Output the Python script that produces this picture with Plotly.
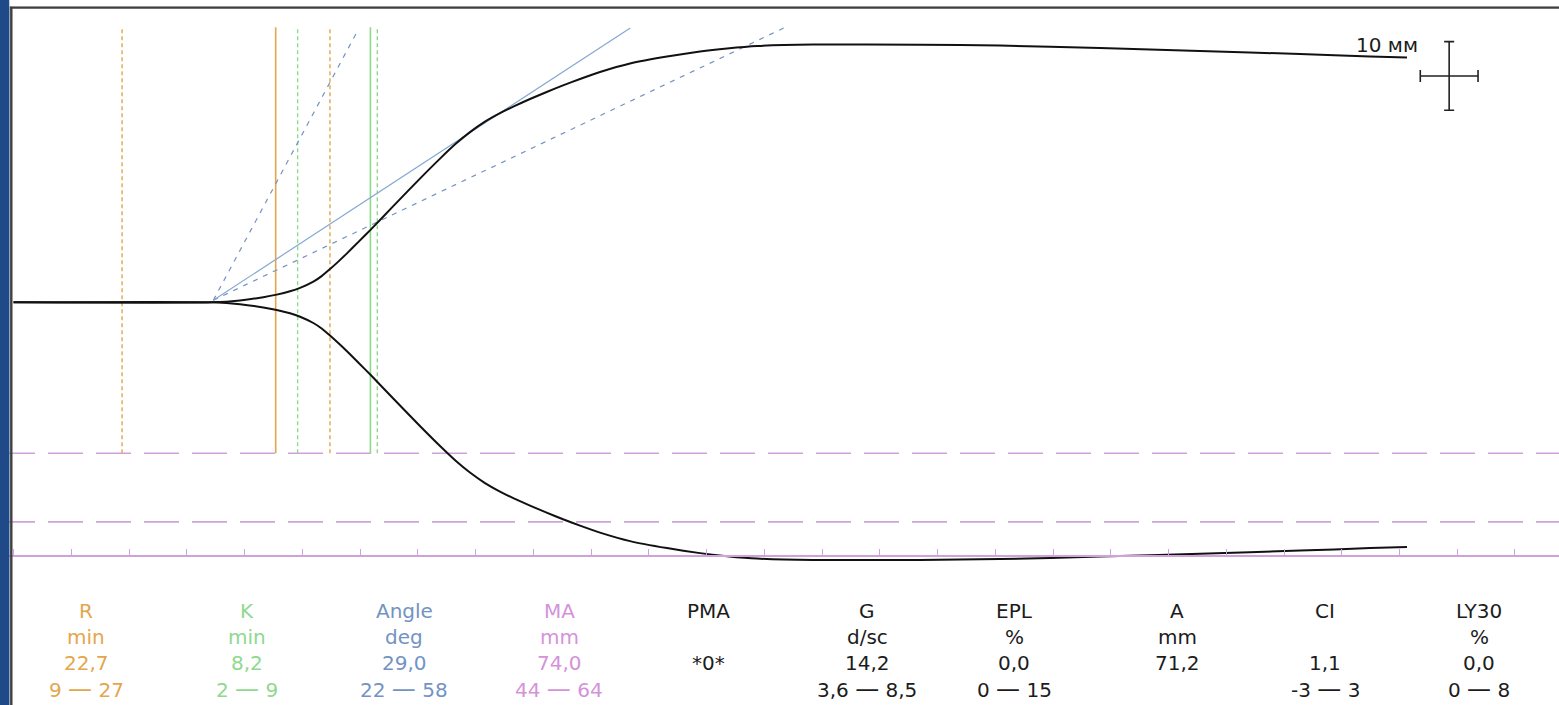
import plotly.graph_objects as go

# ---------------- data ----------------
# TEG trace: time in minutes, full amplitude in mm
TIME_MIN = [0, 17.3, 19.61, 21.63, 22.79, 23.94, 24.81, 25.96, 26.68, 27.40,
            28.12, 28.85, 29.89, 30.93, 32.88, 35.19, 36.93, 38.31, 39.52, 40.82,
            42.12, 43.27, 44.72, 46.16, 47.58, 49.05, 50.78, 53.38, 56.58, 59.44,
            61.78, 64.37, 69.22, 78.48, 85.41, 94.07, 102.73, 111.39, 117.45, 120.65]
AMPLITUDE_MM = [0, 0, 0.55, 1.49, 2.24, 3.21, 4.20, 6.03, 7.64, 9.68,
                11.87, 14.20, 17.70, 21.20, 28.05, 36.07, 41.90, 46.27, 49.63, 52.69,
                55.17, 57.08, 59.27, 61.31, 63.26, 65.10, 67.14, 69.62, 71.66, 73.12,
                74.00, 74.72, 75.15, 75.10, 74.85, 74.14, 73.27, 72.39, 71.66, 71.37]

# marker lines (minutes)
R_LINE = 22.7
K_LINE = 30.9
R_RANGE_LINES = [9.4, 27.4]
K_RANGE_LINES = [24.6, 31.5]
VLINE_TOP_MM = 40.1

# MA lines (mm)
MA_RANGE = [44, 64]
MA_VALUE = 74

# angle lines: [start, end] in (minutes, half-amplitude mm)
ANGLE_LINE_T = [17.3, 53.4]
ANGLE_LINE_Y = [0.3, 40.0]
ANGLE_LOW_T = [17.3, 66.7]
ANGLE_LOW_Y = [0.3, 40.0]
ANGLE_HIGH_T = [17.3, 29.7]
ANGLE_HIGH_Y = [0.3, 39.3]

# scale cross (5 min x 10 mm)
SCALE_T = 124.3
SCALE_Y = 33.0
SCALE_HALF_T = 2.5
SCALE_HALF_MM = 5.0
SCALE_LABEL = "10 мм"

# parameter table
PARAM_NAMES = ["R", "K", "Angle", "MA", "PMA", "G", "EPL", "A", "CI", "LY30"]
PARAM_UNITS = ["min", "min", "deg", "mm", "", "d/sc", "%", "mm", "", "%"]
PARAM_VALUES = ["22,7", "8,2", "29,0", "74,0", "*0*", "14,2", "0,0", "71,2", "1,1", "0,0"]
PARAM_RANGES = ["9 — 27", "2 — 9", "22 — 58", "44 — 64", "", "3,6 — 8,5", "0 — 15", "", "-3 — 3", "0 — 8"]

# ---------------- styling ----------------
W, H = 1559, 705
ORANGE = "#E4A64C"
GREEN = "#8ED98E"
BLUE = "#86A8D2"
BLUE_D = "#7393C2"
PURPLE = "#CFA2DC"
PURPLE_T = "#D493D8"
TXT = "#1c1c1c"
FONT = "DejaVu Sans"

X_RANGE = [-1.169, 133.81]
Y_RANGE = [-58.70, 44.07]

PARAM_COLORS = [ORANGE, GREEN, BLUE_D, PURPLE_T, TXT, TXT, TXT, TXT, TXT, TXT]
COL_X_PX = [86, 247, 404, 559, 708, 867, 1014, 1177, 1325, 1479]
ROW_Y_PX = [611, 637, 663, 689]


def wide_dash(txt):
    # the original software draws a long dash between range limits
    return txt.replace("—", "<span style='font-size:24px'>—</span>")


fig = go.Figure()

# MA range dashed lines
for ma in MA_RANGE:
    fig.add_trace(go.Scatter(x=X_RANGE, y=[-ma / 2, -ma / 2], mode="lines",
                             line=dict(color=PURPLE, width=1.6, dash="35px,13px"),
                             hoverinfo="skip"))

# vertical marker lines
for v in R_RANGE_LINES:
    fig.add_trace(go.Scatter(x=[v, v], y=[-MA_RANGE[0] / 2, VLINE_TOP_MM], mode="lines",
                             line=dict(color=ORANGE, width=1.4, dash="4px,3px"), hoverinfo="skip"))
for v in K_RANGE_LINES:
    fig.add_trace(go.Scatter(x=[v, v], y=[-MA_RANGE[0] / 2, VLINE_TOP_MM], mode="lines",
                             line=dict(color=GREEN, width=1.4, dash="4px,3px"), hoverinfo="skip"))
fig.add_trace(go.Scatter(x=[R_LINE, R_LINE], y=[-MA_RANGE[0] / 2, VLINE_TOP_MM], mode="lines",
                         line=dict(color=ORANGE, width=1.6), hoverinfo="skip"))
fig.add_trace(go.Scatter(x=[K_LINE, K_LINE], y=[-MA_RANGE[0] / 2, VLINE_TOP_MM], mode="lines",
                         line=dict(color=GREEN, width=1.6), hoverinfo="skip"))

# angle lines
fig.add_trace(go.Scatter(x=ANGLE_HIGH_T, y=ANGLE_HIGH_Y, mode="lines",
                         line=dict(color=BLUE_D, width=1.2, dash="5px,6px"), hoverinfo="skip"))
fig.add_trace(go.Scatter(x=ANGLE_LOW_T, y=ANGLE_LOW_Y, mode="lines",
                         line=dict(color=BLUE_D, width=1.2, dash="5px,6px"), hoverinfo="skip"))
fig.add_trace(go.Scatter(x=ANGLE_LINE_T, y=ANGLE_LINE_Y, mode="lines",
                         line=dict(color=BLUE, width=1.2), hoverinfo="skip"))

# TEG trace (upper and lower branches)
half = [a / 2 for a in AMPLITUDE_MM]
for sign in (1, -1):
    fig.add_trace(go.Scatter(x=TIME_MIN, y=[sign * h for h in half], mode="lines",
                             line=dict(color="#111111", width=2.0, shape="spline", smoothing=0.5),
                             hoverinfo="skip"))

# scale cross
fig.add_trace(go.Scatter(x=[SCALE_T], y=[SCALE_Y], mode="markers",
                         marker=dict(size=1, color="rgba(0,0,0,0)"),
                         error_x=dict(type="constant", value=SCALE_HALF_T, color="#222", thickness=1.6, width=6),
                         error_y=dict(type="constant", value=SCALE_HALF_MM, color="#222", thickness=1.6, width=5),
                         hoverinfo="skip"))

annotations = []
annotations.append(dict(x=1387 / W, y=1 - 45 / H, xref="paper", yref="paper", text=SCALE_LABEL,
                        showarrow=False, xanchor="center", yanchor="middle",
                        font=dict(family=FONT, size=20, color=TXT)))
for i, name in enumerate(PARAM_NAMES):
    rows = [name, PARAM_UNITS[i], PARAM_VALUES[i], wide_dash(PARAM_RANGES[i])]
    for j, txt in enumerate(rows):
        if not txt:
            continue
        annotations.append(dict(x=COL_X_PX[i] / W, y=1 - ROW_Y_PX[j] / H, xref="paper", yref="paper",
                                text=txt, showarrow=False, xanchor="center", yanchor="middle",
                                font=dict(family=FONT, size=20, color=PARAM_COLORS[i])))

ma_axis_pos = (-MA_VALUE / 2 - Y_RANGE[0]) / (Y_RANGE[1] - Y_RANGE[0])

shapes = [
    dict(type="rect", xref="paper", yref="paper", x0=0, x1=9.5 / W, y0=0, y1=1,
         fillcolor="#1F4A87", line=dict(width=0), layer="above"),
    dict(type="line", xref="paper", yref="paper", x0=11.3 / W, x1=11.3 / W, y0=0, y1=1 - 6.5 / H,
         line=dict(color="#3f3f3f", width=2.4), layer="above"),
    dict(type="line", xref="paper", yref="paper", x0=10 / W, x1=1, y0=1 - 7.5 / H, y1=1 - 7.5 / H,
         line=dict(color="#3f3f3f", width=2.4), layer="above"),
    dict(type="rect", xref="paper", yref="paper", x0=9.5 / W, x1=1, y0=1 - 6.3 / H, y1=1,
         fillcolor="white", line=dict(width=0), layer="above"),
]

fig.update_layout(
    width=W, height=H,
    margin=dict(l=0, r=0, t=0, b=0),
    paper_bgcolor="white", plot_bgcolor="white",
    showlegend=False,
    xaxis=dict(range=X_RANGE, showgrid=False, zeroline=False, showline=True,
               linecolor=PURPLE, linewidth=1.6, ticks="inside", ticklen=6, tickwidth=1.2,
               tickcolor=PURPLE, tick0=0, dtick=5, showticklabels=False,
               anchor="free", position=ma_axis_pos, fixedrange=True),
    yaxis=dict(range=Y_RANGE, visible=False, fixedrange=True),
    annotations=annotations,
    shapes=shapes,
)

fig.write_html("out.html")
